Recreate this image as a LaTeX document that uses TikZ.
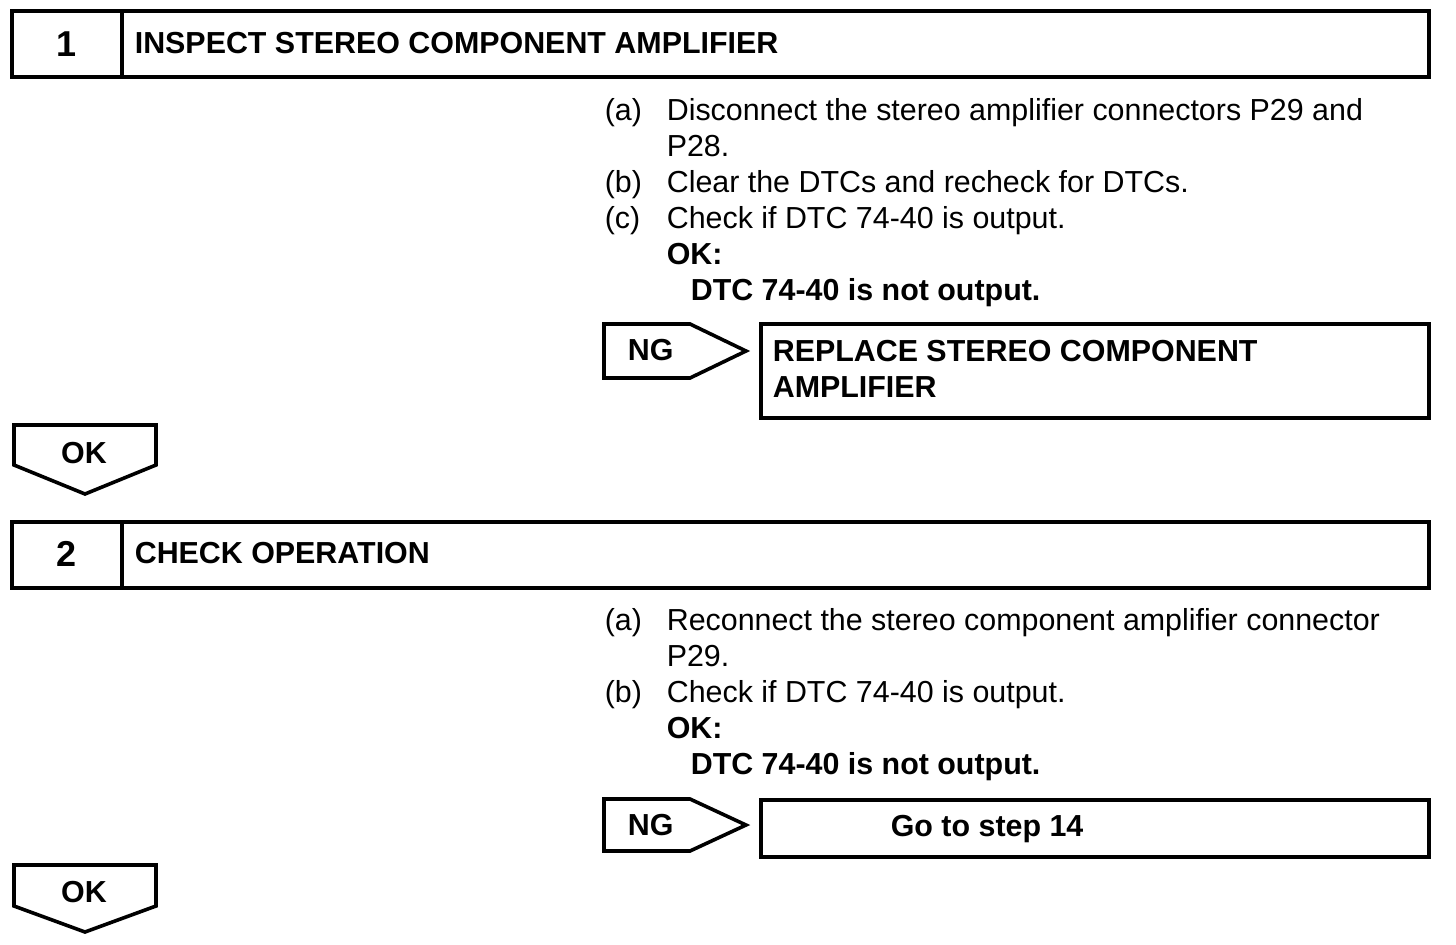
\documentclass[tikz,border=0pt]{standalone}
\usepackage{fontspec}
\setmainfont{Liberation Sans}
\begin{document}
\begin{tikzpicture}[x=0.5pt, y=-0.5pt, line width=1.8pt, line join=miter,
  txt/.style={anchor=base west, inner sep=0pt, font=\fontsize{15.2}{18}\selectfont},
  btxt/.style={anchor=base west, inner sep=0pt, font=\fontsize{15.2}{18}\selectfont\bfseries},
  numtxt/.style={anchor=base, inner sep=0pt, font=\fontsize{18}{20}\selectfont\bfseries}]
\useasboundingbox (0,0) rectangle (1456,944);
% step 1
\draw (12,11) rectangle (1429,77);
\draw (122,11) -- (122,77);
\node[numtxt] (num1) at (67,56) {1};
\node[btxt] (title1) at (133,53) {INSPECT STEREO COMPONENT AMPLIFIER};
\node[txt] (s1a) at (603,120) {(a)};
\node[txt] (s1at) at (665,120) {Disconnect the stereo amplifier connectors P29 and};
\node[txt] (s1at2) at (665,156) {P28.};
\node[txt] (s1b) at (603,192) {(b)};
\node[txt] (s1bt) at (665,192) {Clear the DTCs and recheck for DTCs.};
\node[txt] (s1c) at (603,228) {(c)};
\node[txt] (s1ct) at (665,228) {Check if DTC 74-40 is output.};
\node[btxt] (ok1) at (665,264) {OK:};
\node[btxt] (ok1t) at (689,300) {DTC 74-40 is not output.};
\draw (604,324) -- (690,324) -- (746,351) -- (690,378) -- (604,378) -- cycle;
\node[btxt] (ng1) at (626,360) {NG};
\draw (761,324) rectangle (1429,418);
\node[btxt] (rep1) at (771,361) {REPLACE STEREO COMPONENT};
\node[btxt] (rep2) at (771,397) {AMPLIFIER};
\draw (14,425) -- (156,425) -- (156,465) -- (85,494) -- (14,465) -- cycle;
\node[btxt, anchor=base] (okd1) at (84,463) {OK};
% step 2
\draw (12,522) rectangle (1429,588);
\draw (122,522) -- (122,588);
\node[numtxt] (num2) at (67,566) {2};
\node[btxt] (title2) at (133,563) {CHECK OPERATION};
\node[txt] (s2a) at (603,630) {(a)};
\node[txt] (s2at) at (665,630) {Reconnect the stereo component amplifier connector};
\node[txt] (s2at2) at (665,666) {P29.};
\node[txt] (s2b) at (603,702) {(b)};
\node[txt] (s2bt) at (665,702) {Check if DTC 74-40 is output.};
\node[btxt] (ok2) at (665,738) {OK:};
\node[btxt] (ok2t) at (689,774) {DTC 74-40 is not output.};
\draw (604,799) -- (690,799) -- (746,825) -- (690,851) -- (604,851) -- cycle;
\node[btxt] (ng2) at (626,835) {NG};
\draw (761,800) rectangle (1429,857);
\node[btxt] (go2) at (889,836) {Go to step 14};
\draw (14,865) -- (156,865) -- (156,906) -- (85,932) -- (14,906) -- cycle;
\node[btxt, anchor=base] (okd2) at (84,902) {OK};
\end{tikzpicture}
\end{document}
